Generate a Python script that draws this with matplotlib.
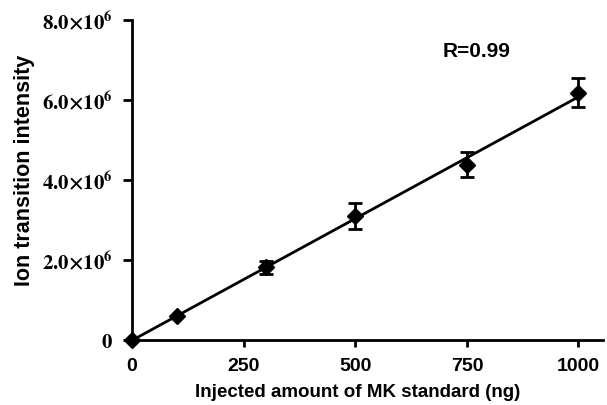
import matplotlib
matplotlib.use("Agg")
import matplotlib.pyplot as plt
import numpy as np
from matplotlib.ticker import FixedLocator, FuncFormatter

# injected amount (ng) vs ion transition intensity
amount = np.array([0, 100, 300, 500, 750, 1000])
intensity = np.array([0.0, 0.60, 1.82, 3.10, 4.38, 6.18]) * 1e6
err = np.array([0.0, 0.0, 0.16, 0.32, 0.31, 0.36]) * 1e6

x_ticks = [0, 250, 500, 750, 1000]
y_ticks = [0, 2e6, 4e6, 6e6, 8e6]

plt.rcParams['mathtext.fontset'] = 'stix'
sans = ['Liberation Sans', 'DejaVu Sans']

fig = plt.figure(figsize=(6.07, 4.05), dpi=100)
ax = fig.add_axes([0.2175, 0.1605, 0.776, 0.79])

# linear fit through the data
slope, icpt = np.polyfit(amount, intensity, 1)
xf = np.array([0, 1000])
ax.plot(xf, slope * xf + icpt, color='black', lw=2, clip_on=False, zorder=2)

ax.errorbar(amount, intensity, yerr=err, fmt='D', color='black', ms=8.5,
            ecolor='black', elinewidth=2, capsize=5, capthick=2,
            clip_on=False, zorder=3)

ax.set_xlim(0, 1055)
ax.set_ylim(0, 8e6)
ax.xaxis.set_major_locator(FixedLocator(x_ticks))
ax.yaxis.set_major_locator(FixedLocator(y_ticks))


def yfmt(v, pos):
    if v == 0:
        return r'$\mathbf{0}\enspace\;$'
    return r'$\mathbf{%.1f{\times}10^{6}}$' % (v / 1e6)


ax.yaxis.set_major_formatter(FuncFormatter(yfmt))
for lab in ax.get_xticklabels():
    lab.set_family(sans)
    lab.set_fontweight('bold')
ax.tick_params(axis='x', labelsize=14, length=5, width=2, pad=8)
ax.tick_params(axis='y', labelsize=15, length=6.5, width=2, pad=7)

for s in ['top', 'right']:
    ax.spines[s].set_visible(False)
for s in ['left', 'bottom']:
    ax.spines[s].set_linewidth(2)

ax.set_xlabel('Injected amount of MK standard (ng)', family=sans,
              fontweight='bold', fontsize=13.5)
ax.xaxis.set_label_coords(0.478, -0.138)
ax.set_ylabel('Ion transition intensity', family=sans,
              fontweight='bold', fontsize=15.5)
ax.yaxis.set_label_coords(-0.205, 0.53)

ax.text(772, 7.22e6, 'R=0.99', family=sans, fontweight='bold', fontsize=15,
        ha='center', va='center')

fig.savefig('out.png', dpi=100)
